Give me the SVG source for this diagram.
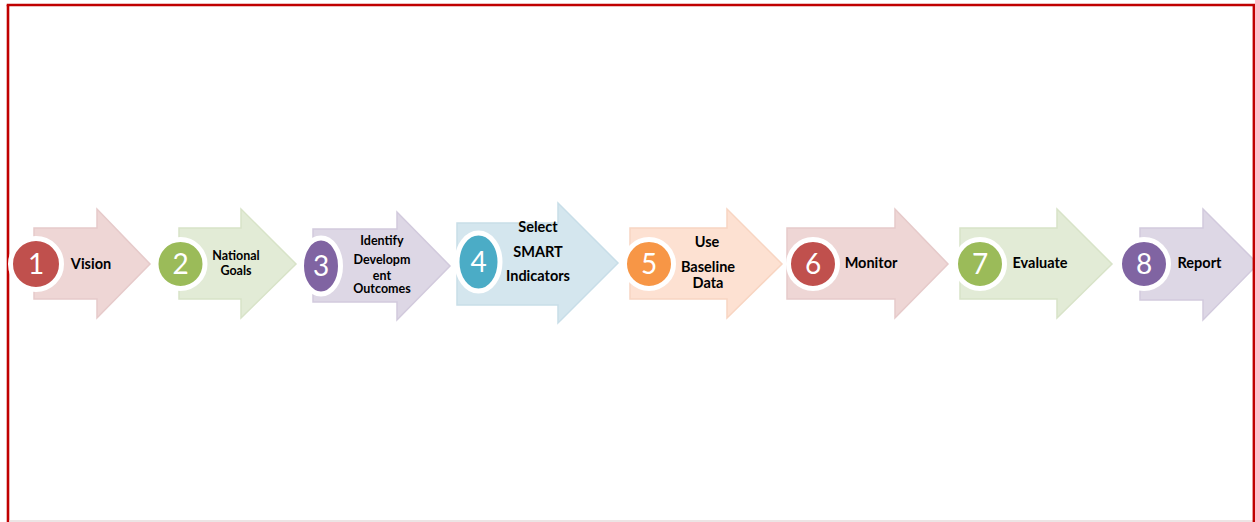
<svg xmlns="http://www.w3.org/2000/svg" width="1255" height="522" viewBox="0 0 1255 522">
<style>
.arrow{stroke-width:1.5;stroke-linejoin:miter}
.a-red{fill:#eed6d5;stroke:#e6caca}
.a-green{fill:#e2ebd6;stroke:#d8e3c8}
.a-purple{fill:#ddd7e5;stroke:#d2cadd}
.a-aqua{fill:#d4e6ee;stroke:#c8dee8}
.a-orange{fill:#fde1d2;stroke:#f8d5c2}
.ring{stroke:#ffffff;stroke-width:5}
.c-red{fill:#c0504d}
.c-green{fill:#9bbb59}
.c-purple{fill:#8064a2}
.c-aqua{fill:#4bacc6}
.c-orange{fill:#f79646}
.num{font-family:Lato,"Liberation Sans",sans-serif;font-size:28px;fill:#ffffff;text-anchor:middle}
.lbl{font-family:Lato,"Liberation Sans",sans-serif;font-weight:bold;fill:#000000;text-anchor:middle}
.big{font-size:14.5px}
.small{font-size:12.5px}
</style>
<rect x="0" y="0" width="1255" height="522" fill="#ffffff"/>
<g id="frame">
<line x1="8" y1="5" x2="8" y2="522" stroke="#c00000" stroke-width="2.6"/>
<line x1="6.7" y1="5" x2="1255" y2="5" stroke="#c00000" stroke-width="2.4"/>
<line x1="9" y1="521" x2="1253" y2="521" stroke="#e6dcdc" stroke-width="1.5"/>
</g>
<g id="connectors"></g>
<g id="node1">
<polygon class="arrow a-red" points="34,228 97,228 97,209 150,264 97,318 97,299 34,299"/>
<circle class="ring c-red" cx="36" cy="264" r="25.5"/>
<text class="num" x="36" y="274">1</text>
<text class="lbl big" x="91" y="269">Vision</text>
</g>
<g id="node2">
<polygon class="arrow a-green" points="179,228 241,228 241,209 296,264 241,318 241,299 179,299"/>
<circle class="ring c-green" cx="180.5" cy="264" r="24.5"/>
<text class="num" x="180.5" y="274">2</text>
<text class="lbl small" x="236" y="260">National</text>
<text class="lbl small" x="236" y="275">Goals</text>
</g>
<g id="node3">
<polygon class="arrow a-purple" points="313,229 397,229 397,212 450,266 397,320 397,302 313,302"/>
<ellipse class="ring c-purple" cx="321" cy="266" rx="19.5" ry="28"/>
<text class="num" x="321" y="276">3</text>
<text class="lbl small" x="382" y="245">Identify</text>
<text class="lbl small" x="382" y="264">Developm</text>
<text class="lbl small" x="382" y="280">ent</text>
<text class="lbl small" x="382" y="293">Outcomes</text>
</g>
<g id="node4">
<polygon class="arrow a-aqua" points="457,223 558,223 558,203 618,263 558,323 558,305 457,305"/>
<ellipse class="ring c-aqua" cx="478.5" cy="262" rx="21.5" ry="29"/>
<text class="num" x="478.5" y="272">4</text>
<text class="lbl big" x="538" y="232">Select</text>
<text class="lbl big" x="538" y="257">SMART</text>
<text class="lbl big" x="538" y="281">Indicators</text>
</g>
<g id="node5">
<polygon class="arrow a-orange" points="630,228 727,228 727,209 782,264 727,318 727,299 630,299"/>
<circle class="ring c-orange" cx="649" cy="264" r="24.5"/>
<text class="num" x="649" y="274">5</text>
<text class="lbl big" x="707" y="247">Use</text>
<text class="lbl big" x="708" y="272">Baseline</text>
<text class="lbl big" x="708" y="288">Data</text>
</g>
<g id="node6">
<polygon class="arrow a-red" points="787,228 895,228 895,209 948,264 895,318 895,299 787,299"/>
<circle class="ring c-red" cx="813" cy="264" r="24.5"/>
<text class="num" x="813" y="274">6</text>
<text class="lbl big" x="871" y="268">Monitor</text>
</g>
<g id="node7">
<polygon class="arrow a-green" points="960,228 1057,228 1057,209 1112,264 1057,318 1057,299 960,299"/>
<circle class="ring c-green" cx="980" cy="264" r="24.5"/>
<text class="num" x="980" y="274">7</text>
<text class="lbl big" x="1040" y="268">Evaluate</text>
</g>
<g id="node8">
<polygon class="arrow a-purple" points="1140,228 1203,228 1203,209 1258,264 1203,320 1203,300 1140,300"/>
<circle class="ring c-purple" cx="1144" cy="264" r="24.5"/>
<text class="num" x="1144" y="274">8</text>
<text class="lbl big" x="1199.5" y="268">Report</text>
</g>
<line x1="1253.8" y1="5" x2="1253.8" y2="522" stroke="#c00000" stroke-width="2.4"/>
</svg>
